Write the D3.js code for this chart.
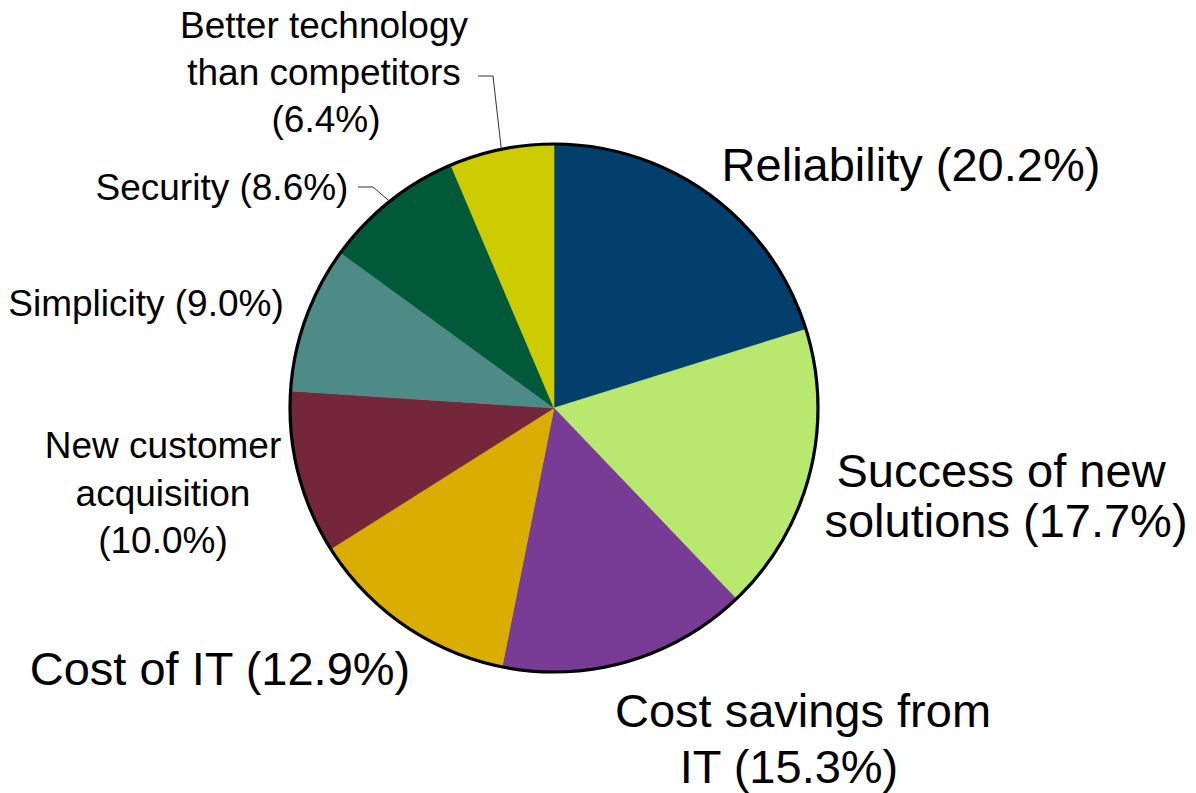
<!DOCTYPE html>
<html>
<head>
<meta charset="utf-8">
<script src="https://cdn.jsdelivr.net/npm/d3@7"></script>
<style>
  html, body { margin: 0; padding: 0; background: #ffffff; }
  svg { display: block; }
  text { font-family: "Liberation Sans", Arial, sans-serif; fill: #000; }
</style>
</head>
<body>
<svg id="chart" width="1196" height="793"></svg>
<script>
// Share of respondents naming each factor (%)
const categories = [
  "Reliability",
  "Success of new solutions",
  "Cost savings from IT",
  "Cost of IT",
  "New customer acquisition",
  "Simplicity",
  "Security",
  "Better technology than competitors"
];
const values = [20.2, 17.7, 15.3, 12.9, 10.0, 9.0, 8.6, 6.4];
const colors = ["#023F6D", "#B9E86F", "#783C96", "#D9AE00", "#74263B", "#4E8B87", "#005A3A", "#CCCC00"];

// How each category name wraps; the percentage is appended to the last line
const nameLines = [
  ["Reliability"],
  ["Success of new", "solutions"],
  ["Cost savings from", "IT"],
  ["Cost of IT"],
  ["New customer", "acquisition", ""],
  ["Simplicity"],
  ["Security"],
  ["Better technology", "than competitors", ""]
];

// Label placement: line centres (x), first baseline (y), line step and font size
const labelLayout = [
  { xs: [911],           y: 181, step: 0,  size: 47 },
  { xs: [1001, 1006],    y: 487, step: 50, size: 47 },
  { xs: [803, 789],      y: 727, step: 56, size: 47 },
  { xs: [220],           y: 685, step: 0,  size: 47 },
  { xs: [163, 163, 163], y: 458, step: 47.5, size: 37 },
  { xs: [146],           y: 316, step: 0,  size: 37 },
  { xs: [222],           y: 200, step: 0,  size: 37 },
  { xs: [324, 324, 326], y: 38,  step: 47, size: 37 }
];

// Leader elbows for the two small slices (line runs elbow -> slice edge)
const leaders = [
  { index: 7, points: [[478, 76], [493, 76]] },
  { index: 6, points: [[358, 187], [373, 187]] }
];

const cx = 554, cy = 408, radius = 264;

const svg = d3.select("#chart");
const g = svg.append("g").attr("transform", `translate(${cx},${cy})`);

const pie = d3.pie().sort(null).value(d => d.value);
const arcs = pie(values.map((v, i) => ({ name: categories[i], value: v, color: colors[i] })));

const arc = d3.arc().innerRadius(0).outerRadius(radius);
const edge = d3.arc().innerRadius(radius).outerRadius(radius);

g.selectAll("path.slice")
  .data(arcs)
  .join("path")
  .attr("class", "slice")
  .attr("d", arc)
  .attr("fill", d => d.data.color)
  .attr("stroke", d => d.data.color)
  .attr("stroke-width", 0.6);

// Outer rim
g.append("circle")
  .attr("r", radius)
  .attr("fill", "none")
  .attr("stroke", "#000")
  .attr("stroke-width", 3.2);

// Leader lines
const line = d3.line();
leaders.forEach(l => {
  const p = edge.centroid(arcs[l.index]);
  const pts = l.points.concat([[p[0] + cx, p[1] + cy]]);
  svg.append("path")
    .attr("d", line(pts))
    .attr("fill", "none")
    .attr("stroke", "#333")
    .attr("stroke-width", 1);
});

// Labels
arcs.forEach((d, i) => {
  const lay = labelLayout[i];
  const lines = nameLines[i].slice();
  const pct = "(" + d.data.value.toFixed(1) + "%)";
  const last = lines.length - 1;
  lines[last] = lines[last] ? lines[last] + " " + pct : pct;
  const t = svg.append("text")
    .attr("text-anchor", "middle")
    .attr("font-size", lay.size);
  lines.forEach((s, k) => {
    t.append("tspan")
      .attr("x", lay.xs[k])
      .attr("y", lay.y + k * lay.step)
      .text(s);
  });
});
</script>
</body>
</html>
